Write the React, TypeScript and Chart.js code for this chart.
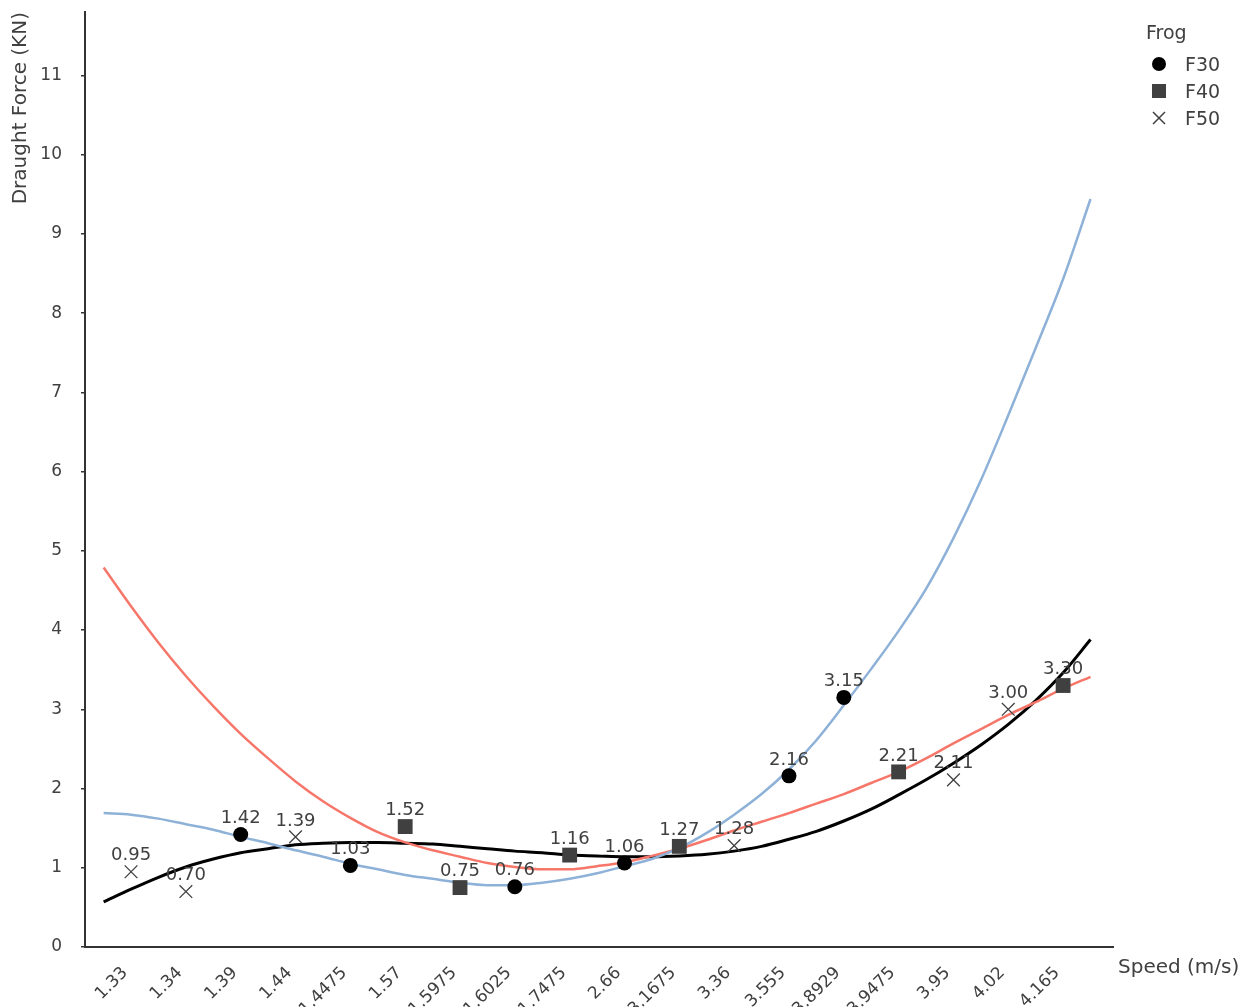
import React, { useEffect, useRef } from "react";
import { Chart, registerables } from "chart.js";

Chart.register(...registerables);

// Category axis: speed (m/s)
const speedLabels = [
  "1.33", "1.34", "1.39", "1.44", "1.4475", "1.57", "1.5975", "1.6025", "1.7475",
  "2.66", "3.1675", "3.36", "3.555", "3.8929", "3.9475", "3.95", "4.02", "4.165",
];

// Observed draught force per frog type (category index + value)
const f30Positions = [2, 4, 7, 9, 12, 13];
const f30Values = [1.42, 1.03, 0.76, 1.06, 2.16, 3.15];
const f40Positions = [5, 6, 8, 10, 14, 17];
const f40Values = [1.52, 0.75, 1.16, 1.27, 2.21, 3.3];
const f50Positions = [0, 1, 3, 11, 15, 16];
const f50Values = [0.95, 0.7, 1.39, 1.28, 2.11, 3.0];

// Trend lines at half-category steps
const trendPositions = [
  -0.5, 0, 0.5, 1, 1.5, 2, 2.5, 3, 3.5, 4, 4.5, 5, 5.5, 6, 6.5, 7, 7.5, 8, 8.5,
  9, 9.5, 10, 10.5, 11, 11.5, 12, 12.5, 13, 13.5, 14, 14.5, 15, 15.5, 16, 16.5, 17, 17.5,
];
const f30Trend = [
  1.69, 1.67, 1.62, 1.55, 1.48, 1.39, 1.31, 1.22, 1.14, 1.05, 0.98, 0.91, 0.86, 0.81, 0.78, 0.78, 0.81, 0.86, 0.93,
  1.02, 1.11, 1.25, 1.44, 1.67, 1.93, 2.24, 2.61, 3.05, 3.51, 3.99, 4.52, 5.16, 5.89, 6.71, 7.56, 8.43, 9.44,
];
const f40Trend = [
  4.79, 4.3, 3.84, 3.42, 3.04, 2.69, 2.38, 2.09, 1.84, 1.63, 1.45, 1.32, 1.22, 1.14, 1.06, 1.01, 0.98, 0.98, 1.02,
  1.07, 1.15, 1.24, 1.35, 1.47, 1.58, 1.69, 1.81, 1.93, 2.07, 2.21, 2.38, 2.57, 2.75, 2.93, 3.09, 3.26, 3.41,
];
const f50Trend = [
  0.57, 0.73, 0.88, 1.01, 1.11, 1.19, 1.24, 1.29, 1.31, 1.32, 1.32, 1.31, 1.3, 1.27, 1.24, 1.21, 1.19, 1.16, 1.15,
  1.14, 1.14, 1.15, 1.17, 1.21, 1.27, 1.36, 1.46, 1.59, 1.74, 1.92, 2.11, 2.32, 2.55, 2.81, 3.11, 3.46, 3.88,
];

const legendTitle = "Frog";
const yTitle = "Draught Force (KN)";
const xTitle = "Speed (m/s)";

const FONT = "'DejaVu Sans', 'Liberation Sans', sans-serif";
const TEXT = "#404040";

const toPoints = (xs: number[], ys: number[]) => xs.map((x, i) => ({ x, y: ys[i] }));

function drawMarker(ctx: CanvasRenderingContext2D, style: string, x: number, y: number, r: number, color: string) {
  ctx.save();
  ctx.fillStyle = color;
  ctx.strokeStyle = color;
  if (style === "circle") {
    ctx.beginPath();
    ctx.arc(x, y, r, 0, Math.PI * 2);
    ctx.fill();
  } else if (style === "rect") {
    ctx.fillRect(x - r, y - r, 2 * r, 2 * r);
  } else {
    ctx.lineWidth = 1.5;
    ctx.beginPath();
    ctx.moveTo(x - r, y - r);
    ctx.lineTo(x + r, y + r);
    ctx.moveTo(x + r, y - r);
    ctx.lineTo(x - r, y + r);
    ctx.stroke();
  }
  ctx.restore();
}

const valueLabels = {
  id: "valueLabels",
  afterDatasetsDraw(chart: any) {
    const ctx = chart.ctx;
    ctx.save();
    ctx.font = `18px ${FONT}`;
    ctx.fillStyle = TEXT;
    ctx.textAlign = "center";
    ctx.textBaseline = "middle";
    chart.data.datasets.forEach((ds: any, di: number) => {
      if (!ds.showValues) return;
      const meta = chart.getDatasetMeta(di);
      meta.data.forEach((el: any, i: number) => {
        ctx.fillText(ds.data[i].y.toFixed(2), el.x, el.y - 16);
      });
    });
    ctx.restore();
  },
};

const extras = {
  id: "extras",
  afterDraw(chart: any) {
    const ctx = chart.ctx;
    const area = chart.chartArea;
    ctx.save();
    ctx.fillStyle = TEXT;
    ctx.font = `20px ${FONT}`;
    ctx.textAlign = "left";
    ctx.textBaseline = "middle";
    ctx.fillText(xTitle, area.right + 5, area.bottom + 21);

    const lx = area.right + 33;
    ctx.font = `19px ${FONT}`;
    ctx.fillText(legendTitle, lx, 34);
    let row = 0;
    chart.data.datasets.forEach((ds: any) => {
      if (!ds.showValues) return;
      const cy = 64 + row * 27;
      const r = ds.pointStyle === "circle" ? 7 : 7;
      drawMarker(ctx, ds.pointStyle === "crossRot" ? "cross" : ds.pointStyle, lx + 13, cy, ds.pointStyle === "crossRot" ? 6 : r, ds.pointBackgroundColor);
      ctx.fillStyle = TEXT;
      ctx.fillText(ds.label, lx + 39, cy + 2);
      row++;
    });
    ctx.restore();
  },
};

export default function App() {
  const canvasRef = useRef<HTMLCanvasElement>(null);

  useEffect(() => {
    if (!canvasRef.current) return;
    const chart = new Chart(canvasRef.current, {
      type: "scatter",
      data: {
        datasets: [
          {
            type: "scatter",
            label: "F30",
            data: toPoints(f30Positions, f30Values),
            pointStyle: "circle",
            pointRadius: 7.5,
            pointBackgroundColor: "#000000",
            pointBorderColor: "#000000",
            borderWidth: 0,
            showValues: true,
            order: 0,
          } as any,
          {
            type: "scatter",
            label: "F40",
            data: toPoints(f40Positions, f40Values),
            pointStyle: "rect",
            pointRadius: 10.5,
            pointBackgroundColor: "#404040",
            pointBorderColor: "#404040",
            borderWidth: 0,
            showValues: true,
            order: 0,
          } as any,
          {
            type: "scatter",
            label: "F50",
            data: toPoints(f50Positions, f50Values),
            pointStyle: "crossRot",
            pointRadius: 9,
            pointBackgroundColor: "#404040",
            pointBorderColor: "#404040",
            pointBorderWidth: 1.3,
            showValues: true,
            order: 0,
          } as any,
          {
            type: "line",
            label: "F30 trend",
            data: toPoints(trendPositions, f30Trend),
            borderColor: "#8eb1d8",
            borderWidth: 2.5,
            pointRadius: 0,
            cubicInterpolationMode: "monotone",
            fill: false,
            order: 1,
          } as any,
          {
            type: "line",
            label: "F40 trend",
            data: toPoints(trendPositions, f40Trend),
            borderColor: "#f6776a",
            borderWidth: 2.5,
            pointRadius: 0,
            cubicInterpolationMode: "monotone",
            fill: false,
            order: 1,
          } as any,
          {
            type: "line",
            label: "F50 trend",
            data: toPoints(trendPositions, f50Trend),
            borderColor: "#000000",
            borderWidth: 3,
            pointRadius: 0,
            cubicInterpolationMode: "monotone",
            fill: false,
            order: 1,
          } as any,
        ],
      },
      options: {
        animation: false,
        responsive: true,
        maintainAspectRatio: false,
        layout: { padding: { top: 12, right: 138, bottom: 0, left: 0 } },
        plugins: {
          legend: { display: false },
          tooltip: { enabled: false },
        },
        scales: {
          x: {
            type: "linear",
            min: -0.84,
            max: 17.91,
            afterBuildTicks: (scale: any) => {
              scale.ticks = speedLabels.map((_, i) => ({ value: i }));
            },
            afterFit: (scale: any) => {
              scale.height = 60;
              scale.paddingLeft = 0;
              scale.paddingRight = 0;
            },
            grid: { display: false },
            border: { display: true, color: "#333333", width: 2 },
            ticks: {
              autoSkip: false,
              minRotation: 45,
              maxRotation: 45,
              padding: 8,
              labelOffset: -6,
              color: TEXT,
              font: { family: FONT, size: 17 },
              callback: (v: any) => speedLabels[Math.round(Number(v))] ?? "",
            },
          },
          y: {
            min: 0,
            max: 11.8,
            afterBuildTicks: (scale: any) => {
              scale.ticks = scale.ticks.filter((t: any) => Number.isInteger(t.value));
            },
            afterFit: (scale: any) => {
              scale.width = 85;
              scale.paddingTop = 0;
              scale.paddingBottom = 0;
            },
            grid: { drawOnChartArea: false, drawTicks: true, tickLength: 4, color: "#333333", lineWidth: 1.5 },
            border: { display: true, color: "#333333", width: 2 },
            ticks: {
              stepSize: 1,
              includeBounds: false,
              padding: 19,
              color: TEXT,
              font: { family: FONT, size: 17 },
            },
            title: {
              display: true,
              text: yTitle,
              align: "end",
              color: TEXT,
              font: { family: FONT, size: 20 },
              padding: { top: 9, bottom: 0 },
            },
          },
        },
      },
      plugins: [valueLabels, extras],
    } as any);
    return () => chart.destroy();
  }, []);

  return (
    <div style={{ position: "absolute", left: 0, top: 0, width: 1251, height: 1007 }}>
      <canvas ref={canvasRef} />
    </div>
  );
}
